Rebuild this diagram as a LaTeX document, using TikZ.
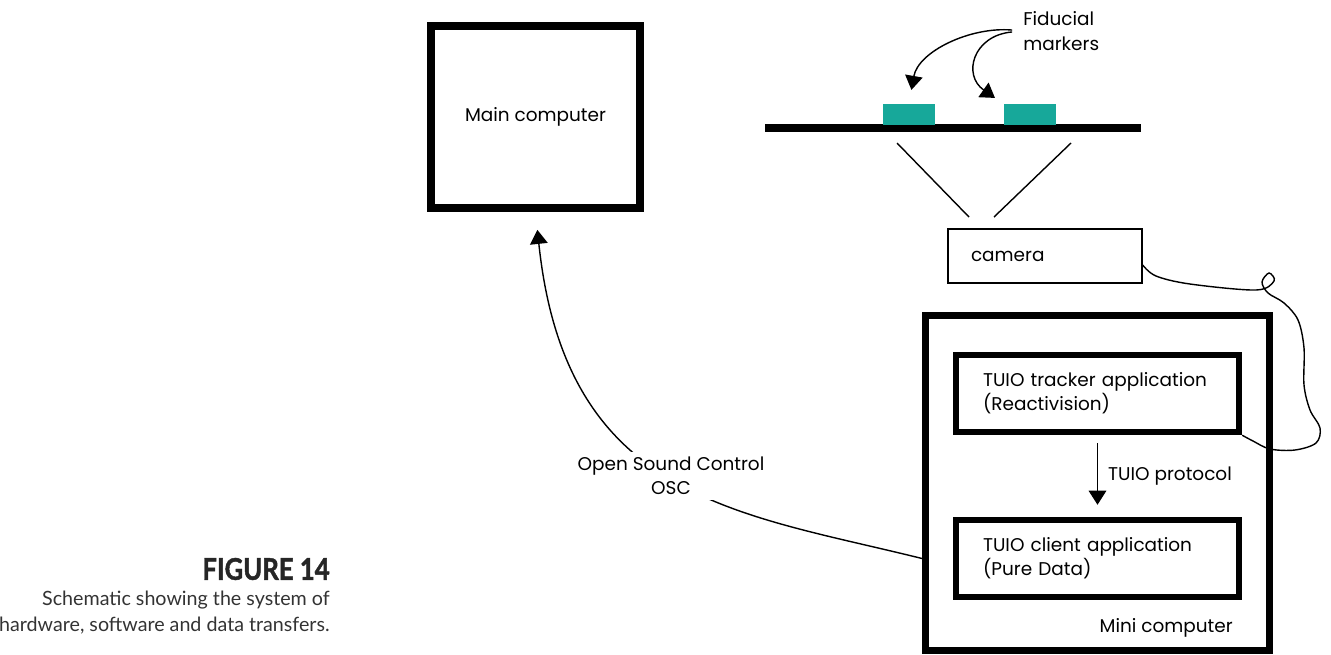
\documentclass[tikz,border=0pt]{standalone}
\usepackage{fontspec}
\setmainfont{Poppins}
\newfontfamily\capfont{Lato}
\newfontfamily\fignofont[FakeStretch=0.86, BoldFeatures={FakeBold=1.5}]{Lato}
\usepackage{tikz}
\usetikzlibrary{arrows.meta, positioning, calc}
\definecolor{markerteal}{RGB}{23,168,154}
\definecolor{captiongray}{RGB}{51,51,51}

\begin{document}
\begin{tikzpicture}[x=0.02cm, y=-0.02cm,
    >={Triangle[width=10pt, length=8pt]},
    lbl/.style={inner sep=0pt, font=\fontsize{10.5}{12}\selectfont},
    appbox/.style={draw, line width=3.7pt, minimum width=5.66cm, minimum height=1.54cm,
        text width=4.58cm, inner xsep=0.54cm, align=left, font=\fontsize{10.5}{12}\selectfont},
    marker/.style={fill=markerteal, minimum width=1.04cm, minimum height=0.42cm, inner sep=0pt},
    wire/.style={line width=0.8pt}
]
    \useasboundingbox (0,0) rectangle (1331,654);

    % Computers
    \node[draw, line width=4.5pt, minimum width=4.18cm, minimum height=3.64cm,
        font=\fontsize{10.5}{12}\selectfont] (main) at (535.5,117) {Main computer};
    \node[draw, line width=4pt, minimum width=6.88cm, minimum height=6.7cm] (mini) at (1097.5,483) {};
    \node[lbl, anchor=base east] (minilbl) at ($(mini.south east)+(-40,-21)$) {Mini computer};

    % Applications
    \node[appbox] (tracker) at (1097.5,393.5) {TUIO tracker application\\(Reactivision)};
    \node[appbox] (client) at (1097.5,558.5) {TUIO client application\\(Pure Data)};
    \draw[->, wire, shorten <=0.16cm, shorten >=0.24cm] (tracker) -- (client)
        node[midway, right=2mm, lbl] {TUIO protocol};

    % Camera and table
    \node[draw, line width=0.8pt, minimum width=3.88cm, minimum height=1.08cm, text width=2.96cm,
        inner xsep=0.46cm, align=left, font=\fontsize{10.5}{12}\selectfont] (camera) at (1045,256) {camera};
    \draw[line width=4pt] (765,128) -- (1141,128);
    \node[marker] (markerA) at (909,114.5) {};
    \node[marker] (markerB) at (1029.5,114.5) {};
    \draw[wire] (897,143) -- (969,217);
    \draw[wire] (1071,143) -- (994,217);

    % Fiducial markers
    \node[lbl, align=left, anchor=west, font=\fontsize{10.5}{14.7}\selectfont] (fid) at (1023,31) {Fiducial\\markers};
    \draw[->, wire, shorten <=0.22cm, shorten >=0.28cm] (fid.west) to[out=175, in=80] (markerA.north);
    \draw[->, wire, shorten <=0.22cm, shorten >=0.2cm] (fid.west) to[out=185, in=145, looseness=1.7] (markerB.north west);

    % Cable
    \coordinate (cablestart) at ($(camera.east)+(0,9)$);
    \draw[wire] plot[smooth, tension=0.55] coordinates {(cablestart) (1156,276) (1190,284) (1256,290)
        (1274,281) (1269,273) (1262,282) (1268,293) (1284,303) (1298,320) (1304,348) (1304,385)
        (1310,410) (1320,428) (1316,443) (1295,450) (1270,449) (1253,441) (tracker.south east)};

    % OSC
    \draw[->, wire, shorten >=0.36cm] (mini.west |- client) .. controls +(166:3.8cm) and +(-84:5.8cm) ..
        node[pos=0.5, fill=white, align=center, inner sep=3pt, font=\fontsize{10.5}{13.6}\selectfont] (osc)
        {Open Sound Control\\OSC} (main.south);

    % Caption
    \node[anchor=east, inner sep=0pt, text=black!85, font=\fignofont\bfseries\fontsize{17}{20}\selectfont] (figno)
        at (330,569) {FIGURE 14};
    \node[anchor=north east, inner sep=0pt, align=right, text=captiongray,
        font=\capfont\fontsize{11.2}{14.7}\selectfont] (caption)
        at (330,591) {Schematic showing the system of\\hardware, software and data transfers.};
\end{tikzpicture}
\end{document}
